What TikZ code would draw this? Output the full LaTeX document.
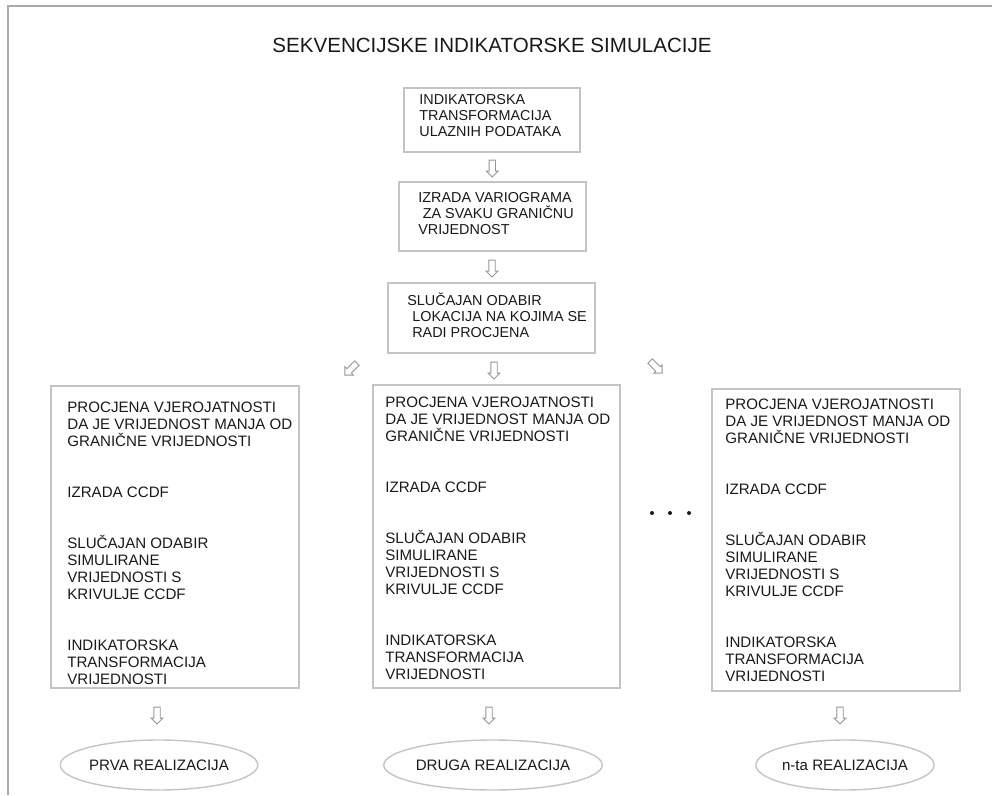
\documentclass[tikz,border=0pt]{standalone}
\usepackage{fontspec}
\setmainfont{Liberation Sans}
\usetikzlibrary{shapes.geometric,shapes.arrows,calc}

\begin{document}
\begin{tikzpicture}[
    box/.style={draw=boxgray, line width=0.8pt, inner sep=0pt},
    topsteps/.style={anchor=north west, align=left, inner sep=0pt, text=txtgray,
        font=\fontsize{8.2}{9.1}\selectfont},
    steps/.style={anchor=north west, align=left, inner sep=0pt, text=txtgray,
        font=\fontsize{8.6}{9.67}\selectfont},
    result/.style={ellipse, draw=boxgray, line width=0.8pt, minimum width=3.44cm,
        minimum height=1.0cm, inner sep=0pt, text=txtgray,
        font=\fontsize{8.6}{9.67}\selectfont},
    blockarr/.style={single arrow, draw=arrgray, fill=white, line width=0.5pt,
        minimum height=0.34cm, minimum width=0pt, inner sep=0.055cm,
        single arrow head extend=0.055cm, single arrow head indent=0pt}
]
\definecolor{boxgray}{RGB}{196,196,196}
\definecolor{arrgray}{RGB}{150,150,150}
\definecolor{txtgray}{RGB}{25,25,25}
\definecolor{framegray}{RGB}{170,170,170}

\useasboundingbox (0,0) rectangle (19.84,15.9);

% outer frame
\draw[framegray, line width=1pt] (0.16,0) -- (0.16,15.78) -- (19.84,15.78);

% ======================
% Title
% ======================
\node[text=txtgray, font=\fontsize{11.7}{14}\selectfont] (title) at (9.84,15.0)
    {SEKVENCIJSKE INDIKATORSKE SIMULACIJE};

% ======================
% Preparation steps
% ======================
\node[box, minimum width=3.52cm, minimum height=1.28cm] (b1) at (9.84,13.5) {};
\node[topsteps] (t1) at (8.38,14.10)
    {\rule{0pt}{8pt}INDIKATORSKA\\TRANSFORMACIJA\\ULAZNIH PODATAKA};

\node[box, minimum width=3.74cm, minimum height=1.38cm] (b2) at (9.85,11.57) {};
\node[topsteps] (t2) at (8.36,12.14)
    {\rule{0pt}{8pt}IZRADA VARIOGRAMA\\\hspace{2.5pt}ZA SVAKU GRANIČNU\\VRIJEDNOST};

\node[box, minimum width=4.14cm, minimum height=1.40cm] (b3) at (9.83,9.54) {};
\node[topsteps] (t3) at (8.14,10.08)
    {\rule{0pt}{8pt}SLUČAJAN ODABIR\\\hspace{2.8pt}LOKACIJA NA KOJIMA SE\\\hspace{2.8pt}RADI PROCJENA};

% ======================
% Realisation boxes
% ======================
\node[box, minimum width=4.96cm, minimum height=6.04cm] (bl) at (3.50,5.16) {};
\node[box, minimum width=4.94cm, minimum height=6.06cm] (bm) at (9.93,5.17) {};
\node[box, minimum width=4.96cm, minimum height=6.04cm] (br) at (16.72,5.10) {};

\node[steps] (tl) at (1.34,7.93)
    {\rule{0pt}{8pt}PROCJENA VJEROJATNOSTI\\DA JE VRIJEDNOST MANJA OD\\GRANIČNE VRIJEDNOSTI\\[19.3pt]
     IZRADA CCDF\\[19.3pt]
     SLUČAJAN ODABIR\\SIMULIRANE\\VRIJEDNOSTI S\\KRIVULJE CCDF\\[19.3pt]
     INDIKATORSKA\\TRANSFORMACIJA\\VRIJEDNOSTI};
\node[steps] (tm) at (7.70,8.03)
    {\rule{0pt}{8pt}PROCJENA VJEROJATNOSTI\\DA JE VRIJEDNOST MANJA OD\\GRANIČNE VRIJEDNOSTI\\[19.3pt]
     IZRADA CCDF\\[19.3pt]
     SLUČAJAN ODABIR\\SIMULIRANE\\VRIJEDNOSTI S\\KRIVULJE CCDF\\[19.3pt]
     INDIKATORSKA\\TRANSFORMACIJA\\VRIJEDNOSTI};
\node[steps] (tr) at (14.50,7.99)
    {\rule{0pt}{8pt}PROCJENA VJEROJATNOSTI\\DA JE VRIJEDNOST MANJA OD\\GRANIČNE VRIJEDNOSTI\\[19.3pt]
     IZRADA CCDF\\[19.3pt]
     SLUČAJAN ODABIR\\SIMULIRANE\\VRIJEDNOSTI S\\KRIVULJE CCDF\\[19.3pt]
     INDIKATORSKA\\TRANSFORMACIJA\\VRIJEDNOSTI};

% dots between middle and right box
\foreach \x in {13.04,13.40,13.78}
    \fill[txtgray] (\x,5.64) circle (0.04);

% ======================
% Results
% ======================
\node[result] (rl) at (3.18,0.60) {PRVA REALIZACIJA};
\node[result] (rm) at (9.86,0.60) {DRUGA REALIZACIJA};
\node[result] (rr) at (16.90,0.60) {n-ta REALIZACIJA};

% ======================
% Block arrows
% ======================
\node[blockarr, shape border rotate=270] (a1) at ($(b1.south)!0.5!(b2.north)$) {};
\node[blockarr, shape border rotate=270] (a2) at ($(b2.south)!0.5!(b3.north)$) {};
\node[blockarr, shape border rotate=270] (a3) at ($(b3.south)!0.5!(bm.north)$) {};
\node[blockarr, rotate=-135] (a4) at (7.04,8.54) {};
\node[blockarr, rotate=-45] (a5) at (13.10,8.58) {};
\node[blockarr, shape border rotate=270] (a6) at (3.14,1.62) {};
\node[blockarr, shape border rotate=270] (a7) at (9.78,1.62) {};
\node[blockarr, shape border rotate=270] (a8) at (16.80,1.62) {};

\end{tikzpicture}
\end{document}
